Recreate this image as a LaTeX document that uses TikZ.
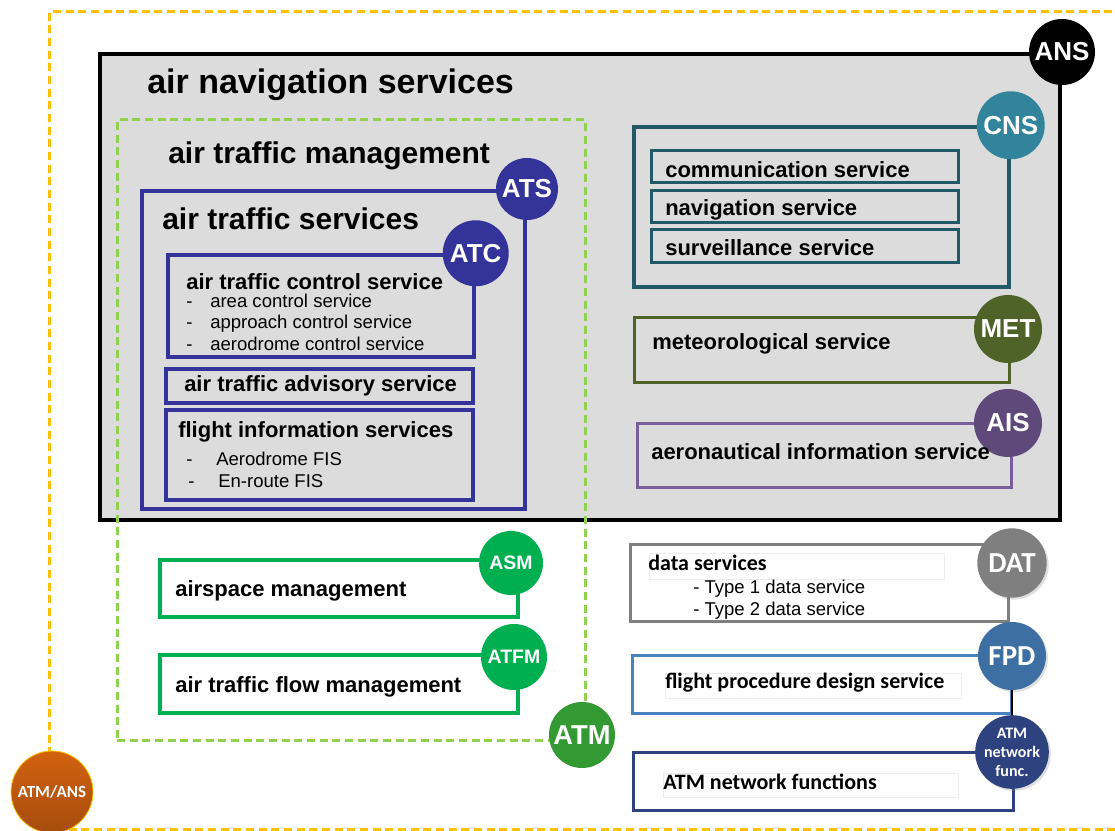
\documentclass[tikz,border=0pt]{standalone}
\usepackage{fontspec}
\setmainfont{Liberation Sans}
\newfontfamily\calfont{Carlito}
\usetikzlibrary{fit,shadows}

\definecolor{ansgray}{HTML}{DCDCDC}
\definecolor{atmgold}{HTML}{FFC000}
\definecolor{atmlime}{HTML}{92D050}
\definecolor{atmgreen}{HTML}{339933}
\definecolor{atsblue}{HTML}{333399}
\definecolor{cnsteal}{HTML}{31849B}
\definecolor{cnsdark}{HTML}{215967}
\definecolor{metolive}{HTML}{4F6228}
\definecolor{aispurple}{HTML}{5F497A}
\definecolor{aisline}{HTML}{7A5E9C}
\definecolor{asmgreen}{HTML}{00B050}
\definecolor{asmbrown}{HTML}{B07A4A}
\definecolor{datgray}{HTML}{7F7F7F}
\definecolor{fpdblue}{HTML}{3D6FA3}
\definecolor{fpdline}{HTML}{4A82BE}
\definecolor{netblue}{HTML}{2F4280}
\definecolor{ansorange}{HTML}{C55A11}

\begin{document}
\begin{tikzpicture}[x=0.75pt,y=-0.75pt,
	box/.style={draw,inner sep=0pt,line width=2.25pt},
	faint/.style={draw=black!7,line width=0.5pt,inner sep=0pt},
	badge/.style={circle,inner sep=0pt,minimum size=50pt,text=white,font=\bfseries\fontsize{19.5}{20}\selectfont},
	calbadge/.style={badge,font=\calfont\bfseries\fontsize{21.75}{22}\selectfont},
	title/.style={anchor=west,inner sep=0pt,font=\bfseries\fontsize{25.5}{28}\selectfont},
	head/.style={anchor=west,inner sep=0pt,font=\bfseries\fontsize{22.5}{26}\selectfont},
	lbl/.style={anchor=west,inner sep=0pt,font=\bfseries\fontsize{16.5}{19}\selectfont},
	callbl/.style={anchor=west,inner sep=0pt,font=\calfont\bfseries\fontsize{16.5}{19}\selectfont},
	item/.style={anchor=base west,inner sep=0pt,font=\fontsize{13.9}{16}\selectfont},
	shade/.style={drop shadow={opacity=0.25,shadow xshift=1.5pt,shadow yshift=-1.5pt}}]
	\useasboundingbox (0,0) rectangle (1115,831);

	% ATM/ANS frame
	\draw[atmgold,line width=2.25pt,dash pattern=on 6pt off 3.5pt] (1125,12) -| (49,829) -- (1125,829);

	% air navigation services
	\node[box,draw=black,fill=ansgray,line width=3pt,fit={(100,54) (1060,520)}] (ans) {};
	\node[title] (ansT) at (147,85) {air navigation services};

	% air traffic management
	\node[box,draw=atmlime,dash pattern=on 6pt off 3.5pt,fit={(117,120) (585,740)}] (atm) {};
	\node[head] (atmT) at (168,156) {air traffic management};

	% air traffic services
	\node[box,draw=atsblue,line width=3pt,fit={(142,191) (525,509)}] (ats) {};
	\node[head] (atsT) at (162,219) {air traffic services};

	\node[box,draw=atsblue,line width=2.6pt,fit={(168,255) (474,357)}] (atc) {};
	\node[lbl] (atcT) at (186,282) {air traffic control service};
	\node[item] (atcI1) at (186,308) {\makebox[18pt][l]{-}area control service};
	\node[item] (atcI2) at (186,329) {\makebox[18pt][l]{-}approach control service};
	\node[item] (atcI3) at (186,350) {\makebox[18pt][l]{-}aerodrome control service};

	\node[box,draw=atsblue,line width=2.6pt,fit={(166,369) (473,403)}] (adv) {};
	\node[lbl] (advT) at (184,386) {air traffic advisory service};

	\node[box,draw=atsblue,line width=2.6pt,fit={(166,410) (473,500)}] (fis) {};
	\node[lbl] (fisT) at (178,432) {flight information services};
	\node[item] (fisI1) at (186,465) {\makebox[22.5pt][l]{-}Aerodrome FIS};
	\node[item] (fisI2) at (188,487) {\makebox[22.5pt][l]{-}En-route FIS};

	\node[badge,fill=atsblue,minimum size=46.5pt] (atsB) at (ats.north east) {ATS};
	\node[badge,fill=atsblue,minimum size=49.5pt] (atcB) at (atc.north east) {ATC};

	% CNS
	\node[box,draw=cnsdark,line width=2.6pt,fit={(634,127) (1009,287)}] (cns) {};
	\node[box,draw=cnsdark,fit={(651,151) (958,183)}] (com) {};
	\node[lbl] (comT) at (665,170) {communication service};
	\node[box,draw=cnsdark,fit={(651,191) (958,223)}] (nav) {};
	\node[lbl] (navT) at (665,210) {navigation service};
	\node[box,draw=cnsdark,fit={(651,230) (958,263)}] (sur) {};
	\node[lbl] (surT) at (665,248) {surveillance service};
	\node[badge,fill=cnsteal,minimum size=51pt] (cnsB) at (cns.north east) {CNS};

	% MET
	\node[box,draw=metolive,fit={(634,318) (1009,382)}] (met) {};
	\node[lbl] (metT) at (652,344) {meteorological service};
	\node[badge,fill=metolive,minimum size=51pt] (metB) at (1008,329) {MET};

	% AIS
	\node[box,draw=aisline,line width=2.25pt,fit={(637,423) (1011,487)}] (ais) {};
	\node[badge,fill=aispurple,minimum size=51pt] (aisB) at (1008,423) {AIS};
	\node[lbl] (aisT) at (651,452) {aeronautical information service};

	\node[badge,fill=black,minimum size=49.5pt] (ansB) at (ans.north east) {ANS};

	% ASM, ATFM
	\node[box,fill=white,draw=asmbrown,line width=0.6pt,double=asmgreen,double distance=2.4pt,fit={(160,560) (518,617)}] (asm) {};
	\node[lbl] (asmT) at (175,591) {airspace management};
	\node[badge,fill=asmgreen,minimum size=48pt,font=\bfseries\fontsize{14.6}{15}\selectfont] (asmB) at (511,563) {ASM};

	\node[box,fill=white,draw=asmbrown,line width=0.6pt,double=asmgreen,double distance=2.4pt,fit={(160,655) (518,713)}] (atfm) {};
	\node[lbl] (atfmT) at (175,687) {air traffic flow management};
	\node[badge,fill=asmgreen,minimum size=49.5pt,font=\bfseries\fontsize{14.6}{15}\selectfont] (atfmB) at (514,657) {ATFM};

	\node[badge,fill=atmgreen,minimum size=49.5pt,font=\bfseries\fontsize{20.5}{21}\selectfont] (atmB) at (582,735) {ATM};

	% data services
	\node[box,draw=datgray,fill=white,shade,fit={(630,544) (1008,621)}] (dat) {};
	\node[faint,fit={(649,553) (944,579)}] (datF) {};
	\node[callbl] (datT) at (648,563) {data services};
	\node[item] (datI1) at (693,593) {- Type 1 data service};
	\node[item] (datI2) at (693,615) {- Type 2 data service};
	\node[calbadge,fill=datgray,minimum size=52pt,shade] (datB) at (1012,563) {DAT};

	% flight procedure design
	\node[box,draw=fpdline,fill=white,shade,fit={(632,655) (1011,713)}] (fpd) {};
	\node[faint,fit={(665,673) (961,698)}] (fpdF) {};
	\node[callbl] (fpdT) at (665,683) {flight procedure design service};

	% ATM network functions
	\node[box,draw=netblue,fill=white,shade,fit={(633,752) (1013,810)}] (net) {};
	\node[faint,fit={(663,773) (958,797)}] (netF) {};
	\node[callbl] (netT) at (663,782) {ATM network functions};

	\node[calbadge,fill=fpdblue,minimum size=51pt,shade] (fpdB) at (1012,656) {FPD};
	\node[badge,fill=netblue,minimum size=52.5pt,shade,align=center,font=\calfont\bfseries\fontsize{12}{14.25}\selectfont] (netB) at (1012,752) {ATM\\network\\func.};
	\draw[line width=0.9pt] (fpdB) -- (netB);

	% ATM/ANS
	\node[badge,top color=ansorange!80!orange,bottom color=ansorange!85!black,draw=atmgold,line width=0.6pt,minimum size=61.5pt,font=\calfont\bfseries\fontsize{12.75}{13}\selectfont] (atmansB) at (52,792) {ATM/ANS};
\end{tikzpicture}
\end{document}
